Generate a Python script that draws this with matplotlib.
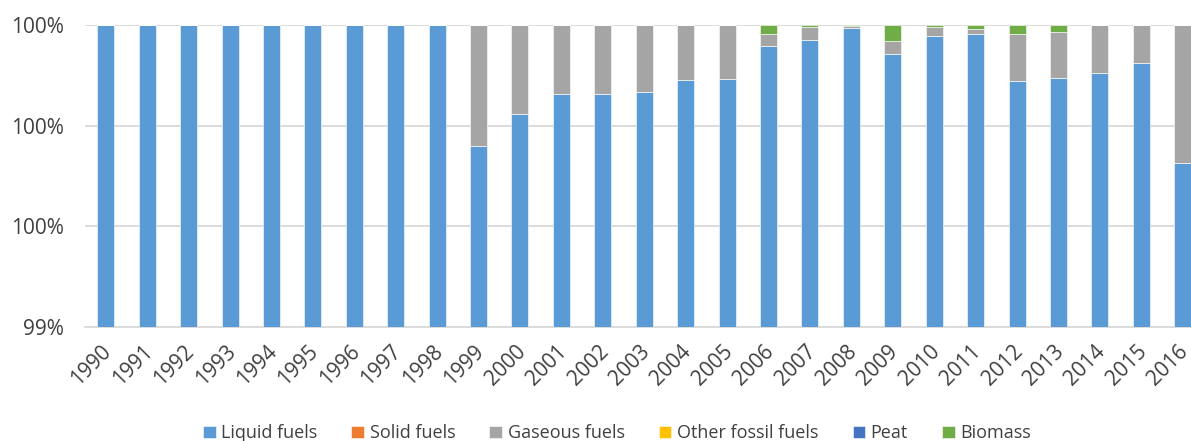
import matplotlib
matplotlib.use("Agg")
import matplotlib.pyplot as plt
import matplotlib.transforms as mtransforms
import numpy as np
from matplotlib.ticker import FuncFormatter

years = [str(y) for y in range(1990, 2017)]

# shares in percent
liquid = [100.0] * 9 + [
    99.7599, 99.8236, 99.8634, 99.8628, 99.8673, 99.8900, 99.8920,
    99.9588, 99.9708, 99.9934, 99.9423, 99.9781, 99.9815, 99.8892,
    99.8940, 99.9051, 99.9250, 99.7249,
]
solid = [0.0] * 27
gaseous = [0.0] * 9 + [
    0.2401, 0.1764, 0.1366, 0.1372, 0.1327, 0.1100, 0.1080,
    0.0233, 0.0246, 0.0046, 0.0259, 0.0185, 0.0100, 0.0923,
    0.0927, 0.0949, 0.0750, 0.2751,
]
other_fossil = [0.0] * 27
peat = [0.0] * 27
biomass = [0.0] * 16 + [
    0.0179, 0.0046, 0.0020, 0.0318, 0.0034, 0.0086, 0.0185, 0.0133,
    0.0, 0.0, 0.0,
]

series = [
    ("Liquid fuels", liquid, "#5B9BD5"),
    ("Solid fuels", solid, "#ED7D31"),
    ("Gaseous fuels", gaseous, "#A5A5A5"),
    ("Other fossil fuels", other_fossil, "#FFC000"),
    ("Peat", peat, "#4472C4"),
    ("Biomass", biomass, "#70AD47"),
]

plt.rcParams["font.family"] = ["Open Sans", "DejaVu Sans"]

fig = plt.figure(figsize=(11.91, 4.41), dpi=100)
ax = fig.add_axes([0.0714, 0.2585, 0.9286, 0.6848])

x = np.arange(len(years))
bottom = np.zeros(len(years))
for name, vals, color in series:
    vals = np.array(vals)
    ax.bar(x, vals, width=0.41, bottom=bottom, color=color, label=name,
           edgecolor="#FFFFFF", linewidth=0.4, zorder=3)
    bottom += vals

ax.set_ylim(99.4, 100.0)
ax.set_yticks([99.4, 99.6, 99.8, 100.0])
ax.yaxis.set_major_formatter(FuncFormatter(lambda v, _: f"{v:.0f}%"))
ax.set_xlim(-0.5, 26.2)
ax.set_xticks(x)
ax.set_xticklabels(years, rotation=45, ha="right", rotation_mode="anchor")
ax.tick_params(axis="both", length=0, labelsize=15, colors="#404040")
ax.tick_params(axis="x", pad=10)
ax.tick_params(axis="y", pad=15)
ax.grid(axis="y", color="#D9D9D9", lw=1.3, zorder=0)
for s in ["top", "right", "left"]:
    ax.spines[s].set_visible(False)
ax.spines["bottom"].set_color("#D9D9D9")
ax.spines["bottom"].set_linewidth(1.3)

# nudge year labels a little to the left, like the Excel original
shift = mtransforms.ScaledTranslation(-5 / 100, 0, fig.dpi_scale_trans)
for lbl in ax.get_xticklabels():
    lbl.set_transform(lbl.get_transform() + shift)

fig.legend(loc="lower center", bbox_to_anchor=(0.518, -0.04), ncol=6,
           frameon=False, fontsize=13, handlelength=0.7, handleheight=0.7,
           handletextpad=0.3, columnspacing=1.9, labelcolor="#404040")

fig.savefig("out.png", dpi=100)
